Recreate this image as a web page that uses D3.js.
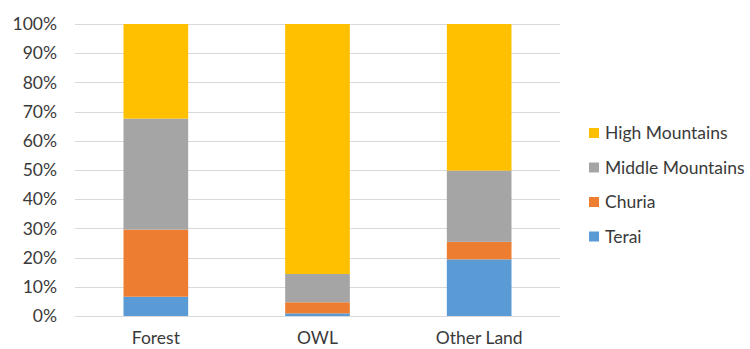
<!DOCTYPE html>
<html>
<head>
<meta charset="utf-8">
<script src="https://cdn.jsdelivr.net/npm/d3@7"></script>
<style>
  html, body { margin: 0; padding: 0; background: #fff; }
  svg { display: block; font-family: Lato, "Open Sans", sans-serif; }
</style>
</head>
<body>
<svg id="chart" width="750" height="349"></svg>
<script>
// Share of each land class by physiographic region (percent)
const categories = ["Forest", "OWL", "Other Land"];
const seriesNames = ["Terai", "Churia", "Middle Mountains", "High Mountains"];
const terai = [6.6, 0.9, 19.4];
const churia = [23.0, 3.8, 6.0];
const middleMountains = [38.0, 9.7, 24.4];
const highMountains = [32.4, 85.6, 50.2];
const tickValues = [0, 10, 20, 30, 40, 50, 60, 70, 80, 90, 100];
const colors = ["#5B9BD5", "#ED7D31", "#A5A5A5", "#FFC000"];

const seriesValues = [terai, churia, middleMountains, highMountains];
const rows = categories.map((c, i) => {
  const r = { category: c };
  seriesNames.forEach((s, j) => { r[s] = seriesValues[j][i]; });
  return r;
});

const svg = d3.select("#chart");
const margin = { left: 75, right: 190, top: 24, bottom: 33 };
const width = 750, height = 349;
const fontSize = "17.5px";
const textColor = "#3a3a3a";

const x = d3.scaleBand()
  .domain(categories)
  .range([margin.left, width - margin.right])
  .paddingInner(0.6)
  .paddingOuter(0.3);

const y = d3.scaleLinear()
  .domain([0, 100])
  .range([height - margin.bottom, margin.top]);

// Gridlines
svg.append("g")
  .selectAll("line")
  .data(tickValues)
  .join("line")
  .attr("x1", margin.left)
  .attr("x2", width - margin.right)
  .attr("y1", d => Math.round(y(d)) + 0.5)
  .attr("y2", d => Math.round(y(d)) + 0.5)
  .attr("stroke", "#d9d9d9")
  .attr("stroke-width", 1);

// Stacked bars
const stack = d3.stack().keys(seriesNames);
const stacked = stack(rows);

svg.append("g")
  .selectAll("g")
  .data(stacked)
  .join("g")
  .attr("fill", (d, i) => colors[i])
  .selectAll("rect")
  .data(d => d)
  .join("rect")
  .attr("x", d => x(d.data.category))
  .attr("width", x.bandwidth())
  .attr("y", d => y(d[1]))
  .attr("height", d => y(d[0]) - y(d[1]));

// Y axis
const yAxis = d3.axisLeft(y)
  .tickValues(tickValues)
  .tickFormat(d => d + "%")
  .tickSize(0)
  .tickPadding(18);
const yg = svg.append("g")
  .attr("transform", `translate(${margin.left},0)`)
  .call(yAxis);
yg.select(".domain").remove();
yg.selectAll("text")
  .attr("fill", textColor)
  .style("font-size", fontSize)
  .style("font-family", "Lato, 'Open Sans', sans-serif");

// X axis
const xAxis = d3.axisBottom(x).tickSize(0).tickPadding(16);
const xg = svg.append("g")
  .attr("transform", `translate(0,${height - margin.bottom})`)
  .call(xAxis);
xg.select(".domain").remove();
xg.selectAll("text")
  .attr("fill", textColor)
  .style("font-size", fontSize)
  .style("font-family", "Lato, 'Open Sans', sans-serif");

// Legend (reverse order, top series first)
const legendItems = seriesNames.map((s, i) => ({ name: s, color: colors[i] })).reverse();
const legend = svg.append("g").attr("transform", "translate(589,133)");
const item = legend.selectAll("g")
  .data(legendItems)
  .join("g")
  .attr("transform", (d, i) => `translate(0,${i * 34.5})`);
item.append("rect")
  .attr("x", 0).attr("y", -5)
  .attr("width", 10).attr("height", 10)
  .attr("fill", d => d.color);
item.append("text")
  .attr("x", 16).attr("y", 0)
  .attr("dy", "0.35em")
  .attr("fill", textColor)
  .style("font-size", fontSize)
  .text(d => d.name);
</script>
</body>
</html>
